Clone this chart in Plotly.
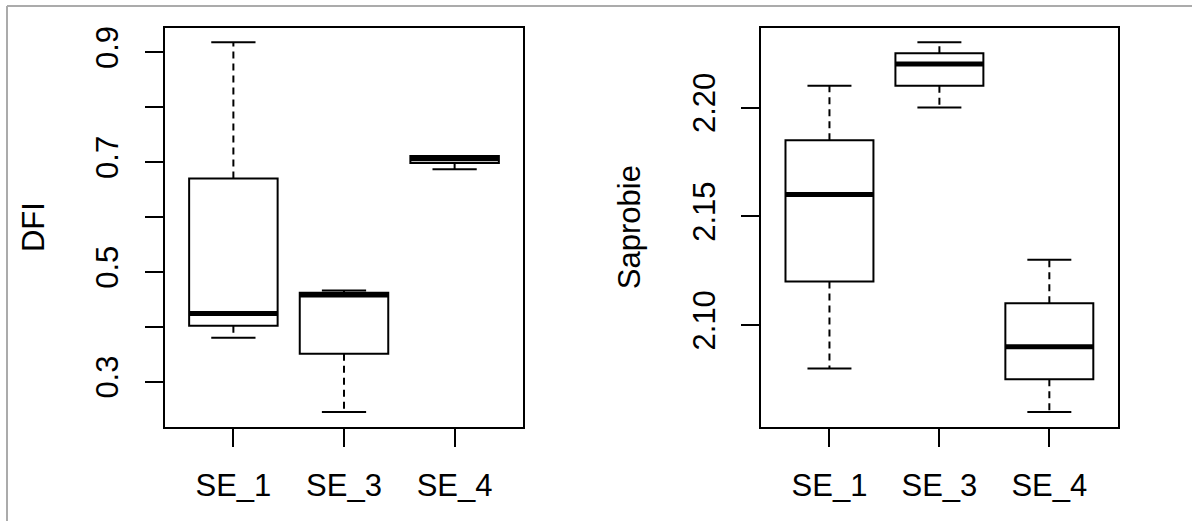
import plotly.graph_objects as go

# ---------------- data ----------------
categories = ["SE_1", "SE_3", "SE_4"]
positions = [1, 2, 3]

dfi_lower = [0.380, 0.245, 0.687]
dfi_q1 = [0.402, 0.351, 0.698]
dfi_median = [0.424, 0.458, 0.706]
dfi_q3 = [0.670, 0.462, 0.711]
dfi_upper = [0.918, 0.466, 0.711]

sap_lower = [2.080, 2.200, 2.060]
sap_q1 = [2.120, 2.210, 2.075]
sap_median = [2.160, 2.220, 2.090]
sap_q3 = [2.185, 2.225, 2.110]
sap_upper = [2.210, 2.230, 2.130]

dfi_tickvals = [0.3, 0.4, 0.5, 0.6, 0.7, 0.8, 0.9]
dfi_ticktext = ["0.3", "", "0.5", "", "0.7", "", "0.9"]
sap_tickvals = [2.10, 2.15, 2.20]
sap_ticktext = ["2.10", "2.15", "2.20"]

# ---------------- styling ----------------
W, H = 1192, 521
FONT = "Arial, Liberation Sans, sans-serif"
FS = 31
BOXW = 0.8
CAPW = 0.4

fig = go.Figure()


def add_panel(xa, ya, lower, q1, med, q3, upper):
    # box body (library box trace)
    fig.add_trace(go.Box(
        x=positions, q1=q1, median=med, q3=q3,
        lowerfence=q1, upperfence=q3,
        width=BOXW, whiskerwidth=0,
        fillcolor="white", line=dict(color="black", width=2),
        boxpoints=False, showlegend=False, hoverinfo="skip",
        xaxis=xa, yaxis=ya,
    ))
    # dashed whiskers
    wx, wy = [], []
    for p, lo, a, b, hi in zip(positions, lower, q1, q3, upper):
        wx += [p, p, None, p, p, None]
        wy += [b, hi, None, a, lo, None]
    fig.add_trace(go.Scatter(
        x=wx, y=wy, mode="lines",
        line=dict(color="black", width=2, dash="7px,5px"),
        showlegend=False, hoverinfo="skip", xaxis=xa, yaxis=ya,
    ))
    # staples
    cx, cy = [], []
    for p, lo, hi in zip(positions, lower, upper):
        cx += [p - CAPW / 2, p + CAPW / 2, None, p - CAPW / 2, p + CAPW / 2, None]
        cy += [hi, hi, None, lo, lo, None]
    fig.add_trace(go.Scatter(
        x=cx, y=cy, mode="lines",
        line=dict(color="black", width=2),
        showlegend=False, hoverinfo="skip", xaxis=xa, yaxis=ya,
    ))
    # thick medians
    mx, my = [], []
    for p, m in zip(positions, med):
        mx += [p - BOXW / 2, p + BOXW / 2, None]
        my += [m, m, None]
    fig.add_trace(go.Scatter(
        x=mx, y=my, mode="lines",
        line=dict(color="black", width=5),
        showlegend=False, hoverinfo="skip", xaxis=xa, yaxis=ya,
    ))


add_panel("x", "y", dfi_lower, dfi_q1, dfi_median, dfi_q3, dfi_upper)
add_panel("x2", "y2", sap_lower, sap_q1, sap_median, sap_q3, sap_upper)


def yr(lo, hi):
    pad = (hi - lo) * 0.04
    return [lo - pad, hi + pad]


y_dom = [1 - 426.7 / H, 1 - 27.5 / H]

xcommon = dict(
    tickmode="array", tickvals=positions, ticktext=categories,
    range=[0.38, 3.62], showgrid=False, zeroline=False,
    showline=True, mirror=True, linecolor="black", linewidth=2,
    ticks="outside", ticklen=18, tickwidth=2, tickcolor="black",
    tickfont=dict(family=FONT, size=FS, color="black"),
    ticklabelstandoff=12, automargin=False,
)
ycommon = dict(
    tickmode="array", showgrid=False, zeroline=False,
    showline=True, mirror=True, linecolor="black", linewidth=2,
    ticks="outside", ticklen=18, tickwidth=2, tickcolor="black",
    tickangle=-90,
    tickfont=dict(family=FONT, size=FS, color="black"),
    ticklabelstandoff=14, automargin=False,
)

fig.update_layout(
    width=W, height=H,
    margin=dict(l=0, r=0, t=0, b=0, pad=0),
    template="none",
    paper_bgcolor="white", plot_bgcolor="white",
    showlegend=False,
    xaxis=dict(domain=[164.8 / W, 523.2 / W], anchor="y", **xcommon),
    xaxis2=dict(domain=[761.3 / W, 1117.5 / W], anchor="y2", **xcommon),
    yaxis=dict(domain=y_dom, anchor="x", range=yr(min(dfi_lower), max(dfi_upper)),
               tickvals=dfi_tickvals, ticktext=dfi_ticktext,
               title=dict(text="DFI", font=dict(family=FONT, size=FS, color="black"),
                          standoff=37),
               **ycommon),
    yaxis2=dict(domain=y_dom, anchor="x2", range=yr(min(sap_lower), max(sap_upper)),
                tickvals=sap_tickvals, ticktext=sap_ticktext,
                title=dict(text="Saprobie", font=dict(family=FONT, size=FS, color="black"),
                           standoff=37),
                **ycommon),
    shapes=[
        dict(type="line", xref="paper", yref="paper",
             x0=7 / W, x1=7 / W, y0=0, y1=1 - 6 / H,
             line=dict(color="#ababab", width=2)),
        dict(type="line", xref="paper", yref="paper",
             x0=7 / W, x1=1, y0=1 - 6 / H, y1=1 - 6 / H,
             line=dict(color="#ababab", width=2)),
    ],
)

fig.write_html("out.html",
               config={"displayModeBar": False},
               post_script="document.body.style.margin='0';document.body.style.overflow='hidden';")
